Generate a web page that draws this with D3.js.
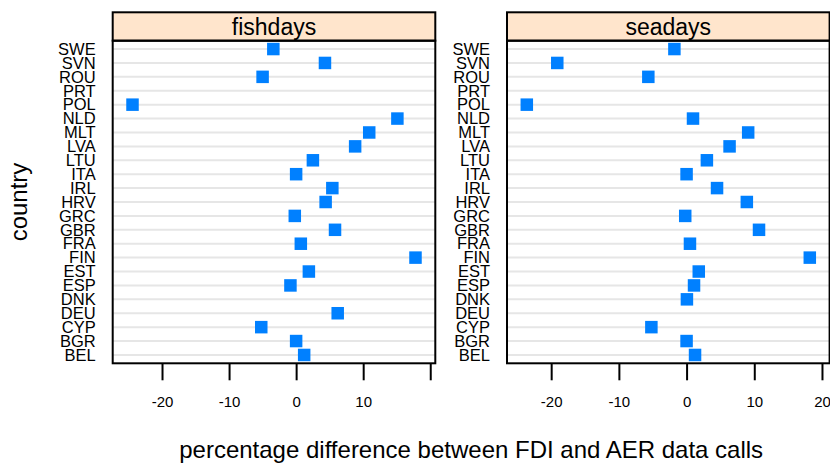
<!DOCTYPE html>
<html>
<head>
<meta charset="utf-8">
<script src="https://cdn.jsdelivr.net/npm/d3@7"></script>
<style>
  body { margin: 0; background: #fff; }
  text { font-family: "Liberation Sans", Arial, sans-serif; fill: #000; }
</style>
</head>
<body>
<div id="chart-area"></div>
<script>
// data (null = no point drawn)
var countries = ["BEL","BGR","CYP","DEU","DNK","ESP","EST","FIN","FRA","GBR","GRC","HRV",
                 "IRL","ITA","LTU","LVA","MLT","NLD","POL","PRT","ROU","SVN","SWE"];
var fishdays = [1.2, 0.0, -5.2, 6.2, null, -0.85, 1.9, 17.8, 0.7, 5.8, -0.2, 4.4,
                5.4, 0.0, 2.5, 8.8, 10.9, 15.1, -24.4, null, -5.0, 4.3, -3.4];
var seadays  = [1.25, 0.0, -5.2, null, 0.05, 1.1, 1.8, 18.2, 0.5, 10.7, -0.2, 8.9,
                4.5, 0.0, 3.0, 6.35, 9.1, 0.95, -23.6, null, -5.65, -19.1, -1.8];
var panelNames = ["fishdays", "seadays"];
var tickValues = [-20, -10, 0, 10, 20];

var width = 830, height = 464;
var panelW = 322.6,
    panelLeft = [112.7, 507],
    stripTop = 12.3, stripH = 28.4,
    panelTop = stripTop + stripH,
    panelBottom = 363.3;

var svg = d3.select("#chart-area").append("svg")
    .attr("width", width)
    .attr("height", height);

var y = d3.scaleLinear()
    .domain([0.4, countries.length + 0.6])
    .range([panelBottom, panelTop]);

var yBand = d3.scalePoint()
    .domain(countries)
    .range([y(1), y(countries.length)]);

[fishdays, seadays].forEach(function(values, p) {
    var x0 = panelLeft[p];
    var ext = d3.extent(values.filter(function(v) { return v !== null; }));
    var pad = (ext[1] - ext[0]) * 0.07;
    var x = d3.scaleLinear()
        .domain([ext[0] - pad, ext[1] + pad])
        .range([x0, x0 + panelW]);

    var g = svg.append("g");

    // strip
    g.append("rect")
        .attr("x", x0).attr("y", stripTop)
        .attr("width", panelW).attr("height", stripH)
        .attr("fill", "#ffe5cc")
        .attr("stroke", "#000").attr("stroke-width", 2);
    g.append("text")
        .attr("x", x0 + panelW / 2)
        .attr("y", stripTop + stripH / 2)
        .attr("dy", "0.36em")
        .attr("text-anchor", "middle")
        .attr("font-size", "23px")
        .text(panelNames[p]);

    // reference lines
    g.selectAll(".ref")
        .data(countries)
        .enter().append("line")
        .attr("x1", x0).attr("x2", x0 + panelW)
        .attr("y1", function(d) { return yBand(d); })
        .attr("y2", function(d) { return yBand(d); })
        .attr("stroke", "#e6e6e6")
        .attr("stroke-width", 2);

    // points
    var pts = countries.map(function(c, i) { return { c: c, v: values[i] }; })
        .filter(function(d) { return d.v !== null; });
    var s = 12.5;
    g.selectAll(".pt")
        .data(pts)
        .enter().append("rect")
        .attr("x", function(d) { return x(d.v) - s / 2; })
        .attr("y", function(d) { return yBand(d.c) - s / 2; })
        .attr("width", s).attr("height", s)
        .attr("fill", "#0080ff");

    // panel border
    g.append("rect")
        .attr("x", x0).attr("y", panelTop)
        .attr("width", panelW).attr("height", panelBottom - panelTop)
        .attr("fill", "none")
        .attr("stroke", "#000").attr("stroke-width", 2);

    // x axis
    var xa = g.append("g")
        .attr("transform", "translate(0," + panelBottom + ")")
        .call(d3.axisBottom(x).tickValues(tickValues).tickSize(17).tickPadding(16.5)
            .tickFormat(function(d) { return (p === 0 && d === 20) ? "" : d; }));
    xa.select(".domain").remove();
    xa.selectAll(".tick line").attr("stroke", "#000").attr("stroke-width", 2);
    xa.selectAll("text")
        .attr("font-size", "15px")
        .attr("font-family", "Liberation Sans, Arial, sans-serif")
        .attr("fill", "#000");

    // y axis labels
    var ya = g.append("g")
        .attr("transform", "translate(" + x0 + ",0)")
        .call(d3.axisLeft(yBand).tickSize(0).tickPadding(17));
    ya.select(".domain").remove();
    ya.selectAll("text")
        .attr("font-size", "16.5px")
        .attr("font-family", "Liberation Sans, Arial, sans-serif")
        .attr("fill", "#000");
});

svg.append("text")
    .attr("x", (panelLeft[0] + panelLeft[1] + panelW) / 2)
    .attr("y", 458)
    .attr("text-anchor", "middle")
    .attr("font-size", "24px")
    .text("percentage difference between FDI and AER data calls");

svg.append("text")
    .attr("transform", "translate(27," + ((panelTop + panelBottom) / 2) + ") rotate(-90)")
    .attr("text-anchor", "middle")
    .attr("font-size", "24px")
    .text("country");
</script>
</body>
</html>
